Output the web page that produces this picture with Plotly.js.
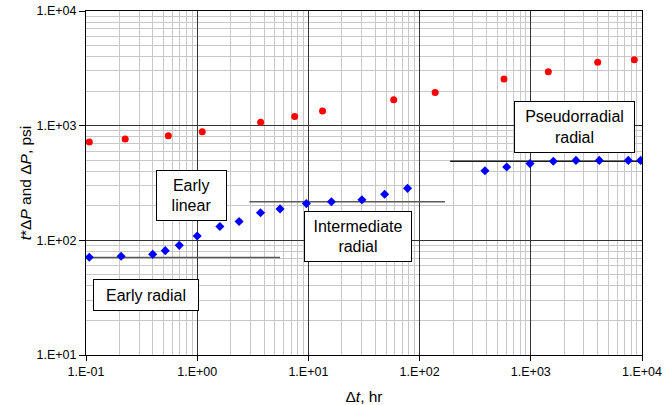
<!DOCTYPE html>
<html>
<head>
<meta charset="utf-8">
<script src="https://cdn.plot.ly/plotly-3.0.1.min.js"></script>
<style>html,body{margin:0;padding:0;background:#fff;}#chart{width:669px;height:405px;}</style>
</head>
<body>
<div id="chart"></div>
<script>
// Pressure change (red circles)
const dpTime = [0.107, 0.225, 0.55, 1.11, 3.72, 7.53, 13.4, 58.5, 138, 574, 1437, 3998, 8531];
const dpValue = [721, 766, 818, 887, 1069, 1205, 1343, 1686, 1951, 2553, 2957, 3565, 3762];

// Pressure derivative t*dP (blue diamonds)
const derTime = [0.107, 0.207, 0.398, 0.516, 0.69, 1.0, 1.6, 2.38, 3.71, 5.56, 9.58, 16.1, 30.3, 48.5, 77.9, 387, 607, 984, 1594, 2548, 4128, 7530, 9730];
const derValue = [71.1, 72.6, 75.5, 81.3, 90.4, 109, 132, 146, 174, 188, 209, 217, 226, 252, 284, 405, 436, 467, 489, 498, 498, 498, 498];

// Flow-regime reference lines
const earlyRadialX = [0.1, 5.56];
const earlyRadialY = [70.7, 70.7];
const interRadialX = [2.95, 169];
const interRadialY = [217, 217];
const pseudoRadialX = [188, 10000];
const pseudoRadialY = [489, 489];

// Regime labels
const labelText = ['Early<br>linear', 'Early radial', 'Intermediate<br>radial', 'Pseudorradial<br>radial'];

// Ticks
const xTickVals = [0.1, 1, 10, 100, 1000, 10000];
const xTickText = ['1.E-01', '1.E+00', '1.E+01', '1.E+02', '1.E+03', '1.E+04'];
const yTickVals = [10, 100, 1000, 10000];
const yTickText = ['1.E+01', '1.E+02', '1.E+03', '1.E+04'];

const FONT = '"Liberation Sans", Arial, sans-serif';

const traces = [
  {x: earlyRadialX, y: earlyRadialY, mode: 'lines', line: {color: '#5a5a5a', width: 1.5}, hoverinfo: 'skip'},
  {x: interRadialX, y: interRadialY, mode: 'lines', line: {color: '#5a5a5a', width: 1.5}, hoverinfo: 'skip'},
  {x: pseudoRadialX, y: pseudoRadialY, mode: 'lines', line: {color: '#1a1a1a', width: 1.5}, hoverinfo: 'skip', cliponaxis: false},
  {x: dpTime, y: dpValue, mode: 'markers', marker: {symbol: 'circle', size: 7, color: '#ff0000'}},
  {x: derTime, y: derValue, mode: 'markers', marker: {symbol: 'diamond', size: 7, color: '#0000ff'}}
];

function box(text, lx, ly, w, h) {
  return {text: text, x: lx, y: ly, xref: 'x', yref: 'y', showarrow: false,
    font: {family: FONT, size: 16, color: '#000'}, bgcolor: '#ffffff',
    bordercolor: '#000000', borderwidth: 1, borderpad: 0, width: w, height: h, align: 'center', valign: 'middle'};
}

const layout = {
  width: 669, height: 405,
  margin: {l: 86, r: 27, t: 11, b: 50},
  paper_bgcolor: '#ffffff', plot_bgcolor: '#ffffff',
  showlegend: false,
  font: {family: FONT, size: 12.5, color: '#000'},
  xaxis: {
    type: 'log', range: [-1, 4],
    tickmode: 'array', tickvals: xTickVals, ticktext: xTickText,
    ticks: 'outside', ticklen: 5, tickcolor: '#000',
    showline: true, linecolor: '#000', linewidth: 1, mirror: true,
    showgrid: true, gridcolor: '#333333', gridwidth: 1,
    minor: {dtick: 'D1', showgrid: true, gridcolor: '#c8c8c8', gridwidth: 1, ticks: ''},
    zeroline: false,
    tickfont: {family: FONT, size: 12.5},
    title: {text: 'Δ<i>t</i>, hr', font: {family: FONT, size: 15.5}, standoff: 13}
  },
  yaxis: {
    type: 'log', range: [1, 4],
    tickmode: 'array', tickvals: yTickVals, ticktext: yTickText,
    ticks: 'outside', ticklen: 6, tickcolor: '#000',
    showline: true, linecolor: '#000', linewidth: 1, mirror: true,
    showgrid: true, gridcolor: '#333333', gridwidth: 1,
    minor: {dtick: 'D1', showgrid: true, gridcolor: '#c8c8c8', gridwidth: 1, ticks: ''},
    zeroline: false,
    tickfont: {family: FONT, size: 12.5},
    title: {text: '<i>t</i>*Δ<i>P</i> and Δ<i>P</i>, psi', font: {family: FONT, size: 15.5}, standoff: 1}
  },
  annotations: [
    box(labelText[0], -0.051, 2.392, 69, 49),
    box(labelText[1], -0.461, 1.524, 104, 30),
    box(labelText[2], 1.445, 2.032, 106, 49),
    box(labelText[3], 3.392, 2.987, 119, 50)
  ]
};

Plotly.newPlot('chart', traces, layout, {displayModeBar: false, staticPlot: true});
</script>
</body>
</html>
